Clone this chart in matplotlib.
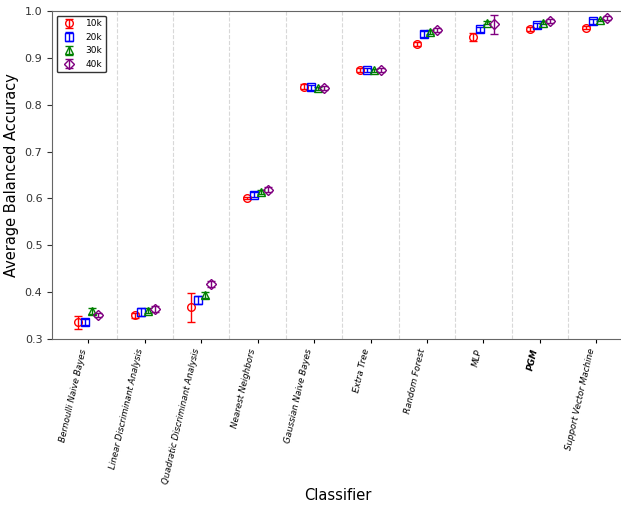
import numpy as np
import matplotlib.pyplot as plt

classifiers = ['Bernoulli Naive Bayes', 'Linear Discriminant Analysis',
               'Quadratic Discriminant Analysis', 'Nearest Neighbors',
               'Gaussian Naive Bayes', 'Extra Tree', 'Random Forest', 'MLP',
               'PGM', 'Support Vector Machine']
sizes = ['10k', '20k', '30k', '40k']

acc_10k = [0.335, 0.350, 0.367, 0.601, 0.839, 0.874, 0.930, 0.945, 0.962, 0.965]
acc_20k = [0.336, 0.357, 0.383, 0.608, 0.837, 0.874, 0.951, 0.961, 0.970, 0.978]
acc_30k = [0.359, 0.360, 0.393, 0.613, 0.835, 0.874, 0.955, 0.975, 0.975, 0.981]
acc_40k = [0.351, 0.364, 0.417, 0.619, 0.836, 0.874, 0.959, 0.972, 0.979, 0.985]

err_10k = [0.014, 0.006, 0.030, 0.003, 0.006, 0.004, 0.004, 0.008, 0.004, 0.004]
err_20k = [0.007, 0.008, 0.009, 0.005, 0.005, 0.004, 0.006, 0.006, 0.005, 0.005]
err_30k = [0.006, 0.005, 0.006, 0.004, 0.004, 0.003, 0.004, 0.003, 0.003, 0.003]
err_40k = [0.005, 0.006, 0.006, 0.005, 0.004, 0.004, 0.004, 0.020, 0.004, 0.004]

accs = [acc_10k, acc_20k, acc_30k, acc_40k]
errs = [err_10k, err_20k, err_30k, err_40k]
colors = ['red', 'blue', 'green', 'purple']
markers = ['o', 's', '^', 'D']
offsets = [-0.18, -0.06, 0.06, 0.18]

fig = plt.figure(figsize=(6.21, 5.08), dpi=100)
ax = fig.add_axes([0.084, 0.333, 0.92, 0.645])

x = np.arange(len(classifiers))
for acc, err, c, m, off, lab in zip(accs, errs, colors, markers, offsets, sizes):
    ax.errorbar(x + off, acc, yerr=err, fmt=m, color=c, mfc='none', mec=c,
                ms=5.5, mew=1, capsize=3, elinewidth=1, label=lab)

# dashed separators between classifier groups
for b in x[:-1] + 0.5:
    ax.axvline(b, color='#d8d8d8', ls='--', lw=0.8, zorder=0)

ax.set_xlim(-0.64, 9.48)
ax.set_ylim(0.3, 1.0)
ax.set_xticks(x)
ax.set_xticklabels(classifiers, rotation=77, ha='right', fontsize=6.3, style='italic')
ax.get_xticklabels()[8].set_fontweight('bold')
ax.tick_params(axis='y', labelsize=8, colors='#333333')
ax.tick_params(axis='x', length=3)
for s in ax.spines.values():
    s.set_color('#666666')

ax.set_ylabel('Average Balanced Accuracy', fontsize=10.5)
ax.set_xlabel('Classifier', fontsize=10.5)
ax.xaxis.set_label_coords(0.5, -0.455)
leg = ax.legend(loc='upper left', fontsize=6.5, frameon=True, edgecolor='black')
leg.get_frame().set_linewidth(1)

fig.savefig('out.png', dpi=100)
